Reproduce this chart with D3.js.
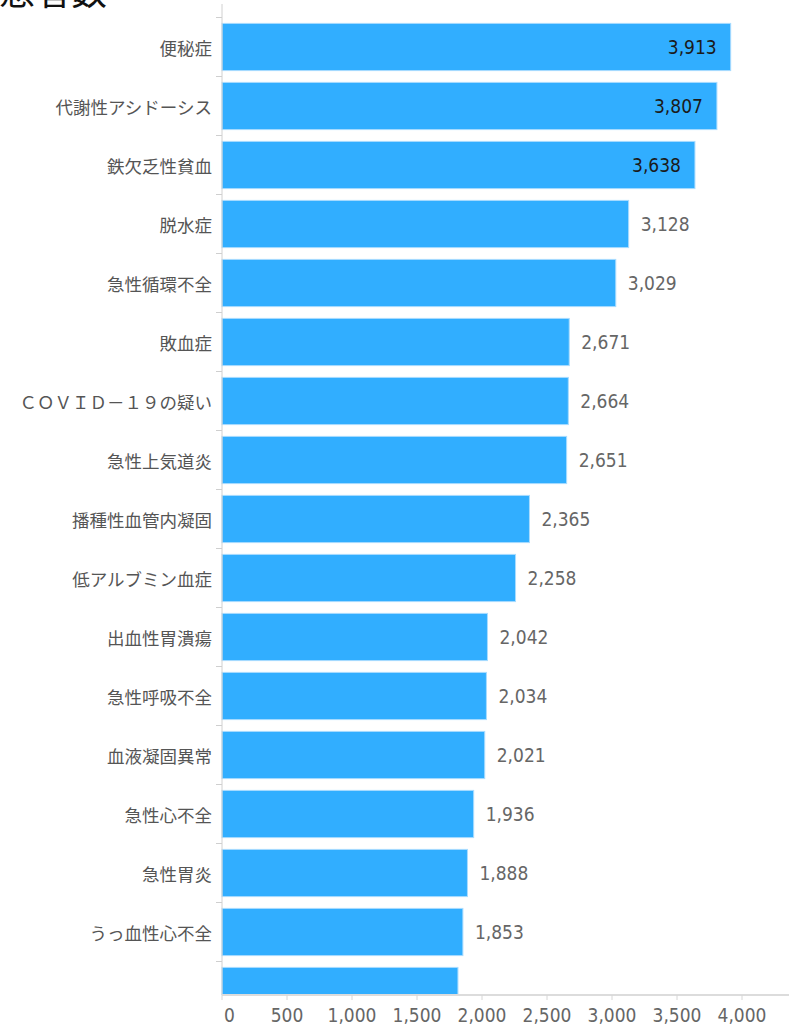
<!DOCTYPE html>
<html>
<head>
<meta charset="utf-8">
<script src="https://cdn.jsdelivr.net/npm/d3@7/dist/d3.min.js"></script>
<style>
  html, body { margin: 0; padding: 0; background: #fff; }
  svg { display: block; }
  .num { font-family: "DejaVu Sans Condensed", "DejaVu Sans", Verdana, sans-serif; font-stretch: condensed; }
</style>
</head>
<body>
<svg id="chart" width="789" height="1026"></svg>
<script>
// Diagnoses ranked by patient count (visible window of a scrolling list)
const categories = [
  "便秘症", "代謝性アシドーシス", "鉄欠乏性貧血", "脱水症", "急性循環不全",
  "敗血症", "ＣＯＶＩＤ－１９の疑い", "急性上気道炎", "播種性血管内凝固", "低アルブミン血症",
  "出血性胃潰瘍", "急性呼吸不全", "血液凝固異常", "急性心不全", "急性胃炎",
  "うっ血性心不全", ""
];
const patients = [
  3913, 3807, 3638, 3128, 3029,
  2671, 2664, 2651, 2365, 2258,
  2042, 2034, 2021, 1936, 1888,
  1853, 1815
];
const xTicks = [0, 500, 1000, 1500, 2000, 2500, 3000, 3500, 4000];
const title = "患者数";

const W = 789, H = 1026;
const plotTop = 4, plotBottom = 995;
const svg = d3.select("#chart");
const fmt = d3.format(",");

const rows = categories.map((c, i) => ({ i, name: c, value: patients[i] }));

const x = d3.scaleLinear().domain([0, 4000]).range([222, 742]);
const y = d3.scaleBand()
  .domain(rows.map(d => d.i))
  .range([17.5, 17.5 + rows.length * 59])
  .paddingInner(0.2)
  .paddingOuter(0.1);

// title, partly scrolled out of view
svg.append("text")
  .attr("x", -1).attr("y", 5)
  .attr("font-family", "'Noto Sans CJK JP', sans-serif")
  .attr("font-size", 36)
  .attr("fill", "#111")
  .text(title);

svg.append("clipPath").attr("id", "plotClip")
  .append("rect")
  .attr("x", 0).attr("y", plotTop)
  .attr("width", W).attr("height", plotBottom - plotTop);

const plot = svg.append("g").attr("clip-path", "url(#plotClip)");

// bars
plot.selectAll("rect.bar").data(rows).join("rect")
  .attr("class", "bar")
  .attr("x", x(0))
  .attr("y", d => y(d.i))
  .attr("width", d => x(d.value) - x(0))
  .attr("height", y.bandwidth())
  .attr("fill", "#31aeff")
  .attr("stroke", "#a9dcff")
  .attr("stroke-width", 1);

// rows fully inside the window get labels
const visible = rows.filter(d => y(d.i) + y.bandwidth() <= plotBottom);

// category axis
const yAxisG = svg.append("g");
yAxisG.append("line")
  .attr("x1", x(0)).attr("x2", x(0))
  .attr("y1", plotTop).attr("y2", plotBottom)
  .attr("stroke", "#d0d0d0").attr("stroke-width", 1);
const boundaries = rows.map(d => y(d.i) - y.step() * y.paddingOuter());
yAxisG.selectAll("line.tick").data(boundaries.filter(b => b < plotBottom)).join("line")
  .attr("class", "tick")
  .attr("x1", x(0) - 6).attr("x2", x(0))
  .attr("y1", d => d).attr("y2", d => d)
  .attr("stroke", "#cfcfcf").attr("stroke-width", 1);
yAxisG.selectAll("text.cat").data(visible).join("text")
  .attr("class", "cat")
  .attr("x", x(0) - 10)
  .attr("y", d => y(d.i) + y.bandwidth() / 2)
  .attr("text-anchor", "end")
  .attr("dominant-baseline", "central")
  .attr("font-family", "'Noto Sans CJK JP', sans-serif")
  .attr("font-size", 17.5)
  .attr("fill", "#555")
  .text(d => d.name);

// value labels: inside the bar when they would run past the last tick
const valueLabels = svg.append("g").selectAll("text.val").data(visible).join("text")
  .attr("class", "val num")
  .attr("y", d => y(d.i) + y.bandwidth() / 2)
  .attr("dominant-baseline", "central")
  .attr("font-size", 19)
  .text(d => fmt(d.value));
valueLabels.each(function(d) {
  const w = this.getComputedTextLength();
  const inside = x(d.value) + 12 + w > x.range()[1];
  d3.select(this)
    .attr("x", inside ? x(d.value) - 14 : x(d.value) + 12)
    .attr("text-anchor", inside ? "end" : "start")
    .attr("fill", inside ? "#1b1b1b" : "#666");
});

// value axis
const xAxisG = svg.append("g");
xAxisG.append("line")
  .attr("x1", x(0)).attr("x2", W)
  .attr("y1", plotBottom).attr("y2", plotBottom)
  .attr("stroke", "#dcdcdc").attr("stroke-width", 2);
xAxisG.selectAll("line.tick").data(xTicks).join("line")
  .attr("class", "tick")
  .attr("x1", d => x(d)).attr("x2", d => x(d))
  .attr("y1", plotBottom).attr("y2", plotBottom + 5)
  .attr("stroke", "#d6d6d6").attr("stroke-width", 1);
xAxisG.selectAll("text.tl").data(xTicks).join("text")
  .attr("class", "tl num")
  .attr("x", d => d === 0 ? x(d) + 2 : x(d))
  .attr("y", 1015)
  .attr("text-anchor", d => d === 0 ? "start" : "middle")
  .attr("dominant-baseline", "central")
  .attr("font-size", 19)
  .attr("fill", "#666")
  .text(d => fmt(d));
</script>
</body>
</html>
